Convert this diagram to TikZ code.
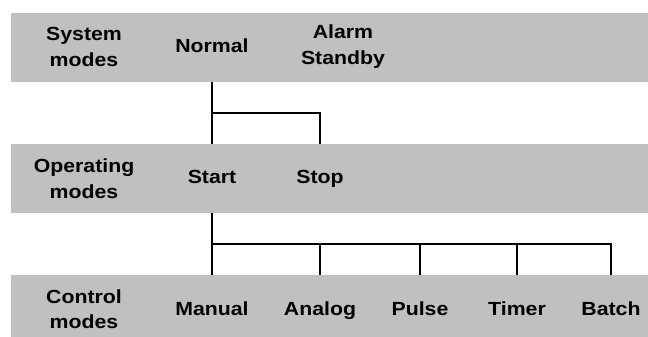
\documentclass[tikz,border=0pt]{standalone}
\usepackage{fontspec}
\setmainfont{Liberation Sans}[FakeStretch=1.12]
\definecolor{bandgray}{RGB}{192,192,192}
\begin{document}
\begin{tikzpicture}[x=1bp,y=-1bp,
  band/.style={fill=bandgray, draw=none, inner sep=0pt, minimum width=637bp, minimum height=69bp, anchor=north west},
  lbl/.style={font=\fontsize{19bp}{25.5bp}\selectfont\bfseries, align=center, inner sep=0pt, text=black},
  one/.style={lbl, anchor=base},
  conn/.style={line width=1.4bp, draw=black}]
\useasboundingbox (0,0) rectangle (648,336);
\fill[white] (0,0) rectangle (648,336);
% bands
\node[band] (band1) at (11,13) {};
\node[band] (band2) at (11,144) {};
\node[band] (band3) at (11,275) {};
% band 1
\node[lbl] (sysmodes) at (84,47) {System\\modes};
\node[one] (normal) at (212,52.5) {Normal};
\node[lbl] (alarm) at (343,46.5) {Alarm\\Standby};
% band 2
\node[lbl] (opmodes) at (84,178.5) {Operating\\modes};
\node[one] (start) at (212,183) {Start};
\node[one] (stop) at (320,183) {Stop};
% band 3
\node[lbl] (ctlmodes) at (84,309) {Control\\modes};
\node[one] (manual) at (212,315.5) {Manual};
\node[one] (analog) at (320,315.5) {Analog};
\node[one] (pulse) at (420,315.5) {Pulse};
\node[one] (timer) at (517,315.5) {Timer};
\node[one] (batch) at (611,315.5) {Batch};
% junction levels
\coordinate (j1) at (0,113);
\coordinate (j2) at (0,244);
% connectors: system -> operating
\draw[conn] (normal |- band1.south) -- (start |- band2.north);
\draw[conn] (normal |- j1) -| (stop |- band2.north);
% connectors: operating -> control
\draw[conn] (start |- band2.south) -- (manual |- band3.north);
\draw[conn] (start |- j2) -| (batch |- band3.north);
\draw[conn] (analog |- j2) -- (analog |- band3.north);
\draw[conn] (pulse |- j2) -- (pulse |- band3.north);
\draw[conn] (timer |- j2) -- (timer |- band3.north);
\end{tikzpicture}
\end{document}
